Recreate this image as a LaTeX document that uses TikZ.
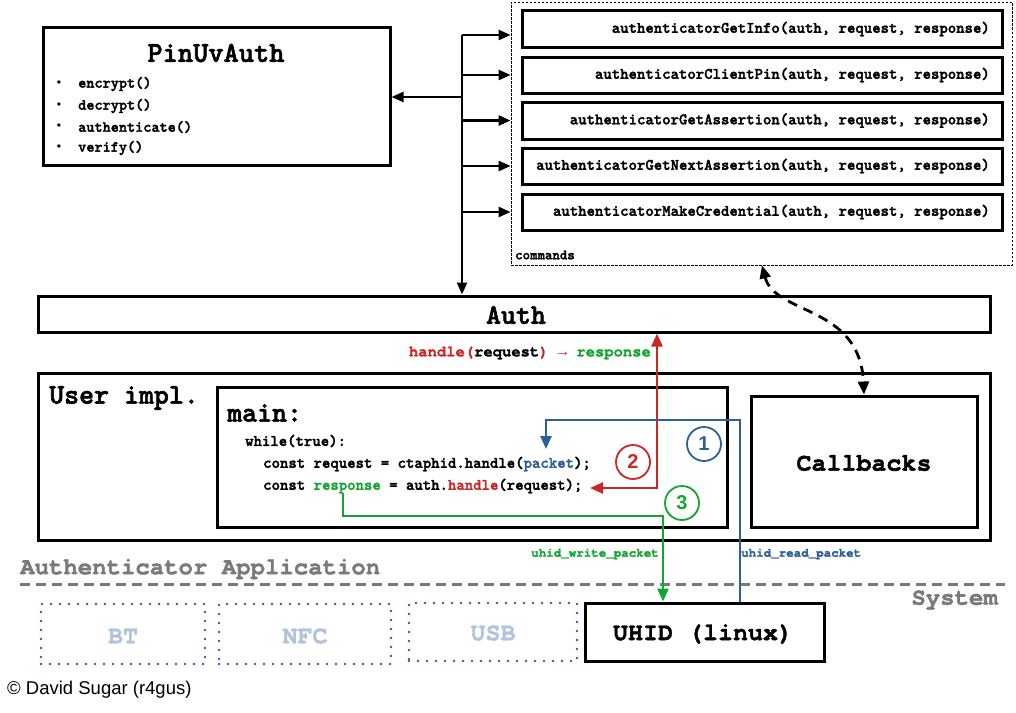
\documentclass[tikz,border=0pt]{standalone}
\usepackage{fontspec}
\newfontfamily\cour{texgyrecursor-bold}[Extension=.otf, FakeBold=1.6]
\newfontfamily\libm{Liberation Mono}
\newfontfamily\arialf{Liberation Sans}
\newfontfamily\lmtb{lmmonolt10-bold}[Extension=.otf, FakeBold=2]
\usetikzlibrary{arrows.meta}
\definecolor{cred}{RGB}{205,38,38}
\definecolor{cblue}{RGB}{45,95,155}
\definecolor{cgreen}{RGB}{20,165,50}
\definecolor{cgray}{RGB}{122,122,122}
\definecolor{clight}{RGB}{176,196,222}
\definecolor{cdot}{RGB}{55,95,150}
\newcommand\fsz[1]{\fontsize{#1}{#1}\selectfont}
\tikzset{mytip/.tip={Triangle[length=13pt,width=11pt]}}
\begin{document}
\begin{tikzpicture}[x=1pt,y=-1pt,
  box/.style={draw, line width=3pt, inner sep=0pt},
  dbox/.style={draw, line width=0.8pt, dash pattern=on 2.5pt off 1.5pt, inner sep=0pt},
  dotbox/.style={draw=cdot, line width=2.6pt, dash pattern=on 0pt off 9pt, line cap=round, inner sep=0pt},
  arr/.style={line width=2.4pt, -{Triangle[length=12pt,width=10pt]}},
  carr/.style={line width=2.6pt},
  num/.style={circle, draw, line width=1.8pt, minimum size=34pt, inner sep=0pt, font=\arialf\bfseries\fsz{20}},
  tt/.style={inner sep=0pt, font=\lmtb\fsz{#1}},
  tt/.default=16,
  cmdtxt/.style={inner sep=0pt, anchor=east, font=\lmtb\fsz{16}},
  big/.style={inner sep=0pt, font=\lmtb\fsz{28.5}},
  co/.style={inner sep=0pt, font=\cour\fsz{#1}},
]
\useasboundingbox (0,0) rectangle (1016,712);

% PinUvAuth
\node[box, minimum width=347, minimum height=138] (pin) at (216.5,96) {};
\node[big, font=\lmtb\fsz{29}] (pint) at (216,53) {PinUvAuth};
\foreach \t/\y [count=\i] in {encrypt()/84, decrypt()/106, authenticate()/127, verify()/148}{
  \node[inner sep=0pt, font=\arialf\fsz{12}] (pb\i) at (59,\y) {•};
  \node[tt=15.5, anchor=west] (pi\i) at (78,\y) {\t};
}

% commands
\node[dbox, minimum width=501, minimum height=263] (cmds) at (761.5,133.5) {};
\node[box, minimum width=480, minimum height=37] (c1) at (762,28.5) {};
\node[box, minimum width=480, minimum height=36] (c2) at (762,75) {};
\node[box, minimum width=480, minimum height=37] (c3) at (762,120.5) {};
\node[box, minimum width=480, minimum height=36] (c4) at (762,166) {};
\node[box, minimum width=480, minimum height=36] (c5) at (762,212) {};
\node[cmdtxt] (t1) at (990,29) {authenticatorGetInfo(auth, request, response)};
\node[cmdtxt] (t2) at (990,75) {authenticatorClientPin(auth, request, response)};
\node[cmdtxt] (t3) at (990,120.5) {authenticatorGetAssertion(auth, request, response)};
\node[cmdtxt] (t4) at (990,166) {authenticatorGetNextAssertion(auth, request, response)};
\node[cmdtxt] (t5) at (990,212) {authenticatorMakeCredential(auth, request, response)};
\node[tt=14.2, anchor=west] (cmdl) at (515,255) {commands};

% Auth
\node[box, minimum width=952, minimum height=36] (auth) at (514,314) {};
\node[big] (autht) at (516,315) {Auth};
\node[co=15.5, anchor=east] (hl) at (651,353) {\textcolor{cred}{handle(}request\textcolor{cred}{) {\libm →} }\textcolor{cgreen}{response}};

% User impl
\node[box, minimum width=952, minimum height=167] (user) at (514,456.5) {};
\node[big, anchor=west] (usert) at (49,398) {User impl.};
\node[box, minimum width=510, minimum height=140] (main) at (472,457) {};
\node[big, anchor=west] (maint) at (227,413) {main:};
\node[tt, anchor=west] (l1) at (245,441) {while(true):};
\node[tt, anchor=west] (l2) at (263,464) {const request = ctaphid.handle(\textcolor{cblue}{packet});};
\node[tt, anchor=west] (l3) at (263,486) {const \textcolor{cgreen}{response} = auth.\textcolor{cred}{handle}(request);};
\node[box, minimum width=226, minimum height=131] (cb) at (864,461.5) {};
\node[co=25] (cbt) at (864,463) {Callbacks};

% circles
\node[num, draw=cblue, text=cblue] (n1) at (704,444) {1};
\node[num, draw=cred, text=cred] (n2) at (633,462) {2};
\node[num, draw=cgreen, text=cgreen] (n3) at (682,503) {3};

% layer separation
\node[co=24, text=cgray, anchor=west] (aa) at (20,569) {Authenticator Application};
\coordinate (sepL) at (20,584);
\coordinate (sepR) at (1005,584);
\draw[cgray, line width=3pt, dash pattern=on 10pt off 6pt] (sepL) -- (sepR);
\node[co=24, text=cgray, anchor=east] (sys) at (998,600) {System};

% transports
\node[dotbox, minimum width=164, minimum height=60] (bt) at (123,634) {};
\node[dotbox, minimum width=172, minimum height=60] (nfc) at (305,634) {};
\node[dotbox, minimum width=168, minimum height=58] (usb) at (493,632) {};
\node[co=25, text=clight] (btt) at (123,636) {BT};
\node[co=25, text=clight] (nfct) at (305,636) {NFC};
\node[co=25, text=clight] (usbt) at (493,633) {USB};
\node[box, minimum width=239, minimum height=58] (uhid) at (705,632) {};
\node[co=25] (uhidt) at (703,634) {UHID (linux)};

\node[co=12.5, text=cgreen, anchor=east] (wr) at (659,554) {uhid\_write\_packet};
\node[co=12.5, text=cblue, anchor=west] (rd) at (741,554) {uhid\_read\_packet};

\node[inner sep=0pt, anchor=west, font=\arialf\fsz{18.5}] (copy) at (7,690) {© David Sugar (r4gus)};

% bus
\coordinate (b1) at (462,35);
\coordinate (b2) at (462,75);
\coordinate (b3) at (462,120.5);
\coordinate (b4) at (462,166);
\coordinate (b5) at (462,212);
\coordinate (bp) at (462,97);
\draw[arr] (b1) -- (b1 |- auth.north);
\foreach \b in {b1,b2,b3,b4,b5}{ \draw[arr] (\b) -- (\b -| cmds.west); }
\draw[arr] (bp) -- (bp -| pin.east);

% dashed callback link
\coordinate (dTop) at (762,0 |- cmds.south);
\draw[line width=2.8pt, dash pattern=on 10pt off 7pt, {mytip}-{mytip}]
  (dTop) .. controls (775,315) and (860,305) .. (cb.north);

% red: auth.handle
\coordinate (rA) at (590,488);
\draw[carr, cred, {mytip}-{mytip}] (rA) -| (657,0 |- auth.south);

% blue: read packet
\coordinate (bS) at (740,0 |- uhid.north);
\coordinate (bC) at (546,420);
\coordinate (bT) at (546,449);
\draw[carr, cblue, -{mytip}] (bS) |- (bC) -- (bT);

% green: write packet
\coordinate (gS) at (343,493);
\coordinate (gC) at (663,516);
\draw[carr, cgreen, -{mytip}] (gS) |- (gC) -- (663,0 |- uhid.north);
\end{tikzpicture}
\end{document}
